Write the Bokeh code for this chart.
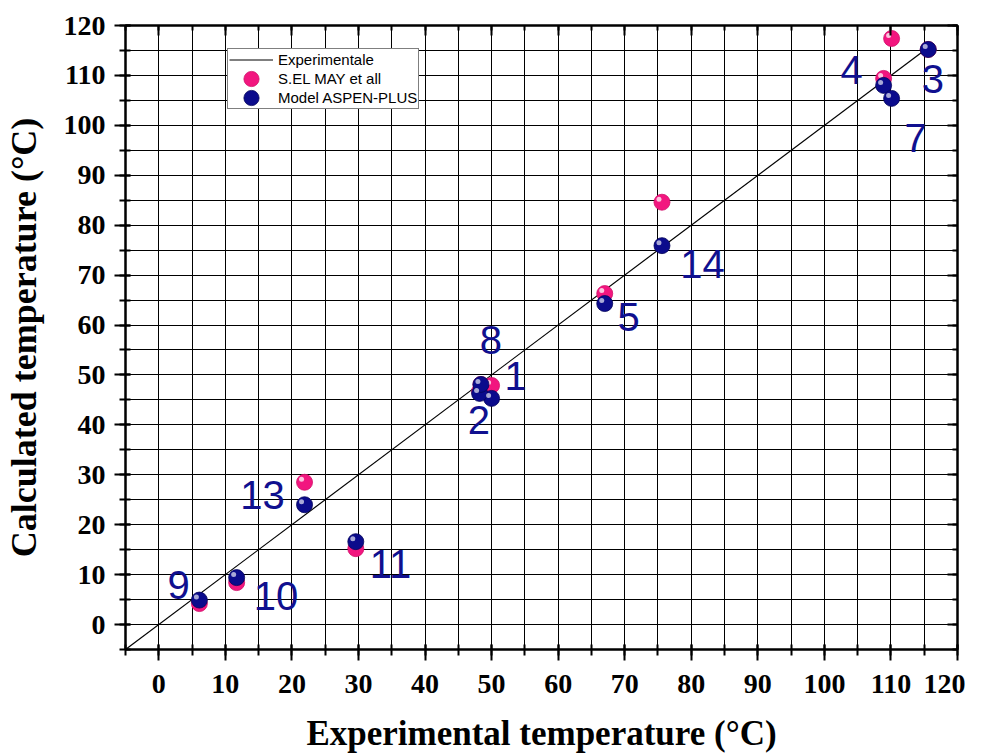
from bokeh.plotting import figure
from bokeh.models import (ColumnDataSource, LinearAxis, SingleIntervalTicker, Legend,
                          LegendItem, Range1d, CustomJSTickFormatter)
from bokeh.transform import dodge
from bokeh.core.properties import value
from bokeh.embed import file_html
from bokeh.resources import INLINE

# ---- data ----
point_id   = ["1", "2", "3", "4", "5", "7", "8", "9", "10", "11", "13", "14"]
exp_temp   = [50.0, 48.2, 115.6, 108.9, 67.0, 110.1, 48.4, 6.1, 11.7, 29.6, 21.9, 75.6]
elmay_temp = [47.9, 46.7, 115.2, 109.4, 66.3, 117.4, 48.1, 4.2, 8.4, 15.2, 28.5, 84.6]
aspen_temp = [45.3, 46.3, 115.2, 108.0, 64.3, 105.4, 48.1, 4.9, 9.4, 16.6, 24.0, 75.9]

label_text = ["4", "3", "7", "14", "5", "8", "1", "2", "13", "11", "9", "10"]
label_x    = [104.1, 116.3, 113.7, 81.7, 70.6, 49.9, 53.6, 48.1, 15.6, 34.8, 3.0, 17.6]
label_y    = [111.0, 109.2, 97.4, 72.3, 61.7, 56.9, 49.7, 40.9, 26.0, 12.2, 8.0, 5.8]

axis_min, axis_max = -5, 120

src = ColumnDataSource(dict(x=exp_temp, y1=elmay_temp, y2=aspen_temp, id=point_id))
lbl = ColumnDataSource(dict(x=label_x, y=label_y, t=label_text))
line_src = ColumnDataSource(dict(x=[axis_min, max(exp_temp)], y=[axis_min, max(exp_temp)]))

p = figure(width=965, height=756, output_backend="svg", toolbar_location=None,
           x_range=Range1d(axis_min, axis_max), y_range=Range1d(axis_min, axis_max),
           x_axis_location=None, y_axis_location=None,
           min_border_left=125, min_border_right=8, min_border_top=25, min_border_bottom=107)
p.background_fill_color = "white"
p.border_fill_color = "white"
p.outline_line_color = "black"
p.outline_line_width = 2

serif = "Liberation Serif"

def make_axis(label=None, labels=True, inward=False, tick_standoff=8, label_standoff=16,
              label_size="35px"):
    ax = LinearAxis(ticker=SingleIntervalTicker(interval=10, num_minor_ticks=2))
    ax.axis_line_width = 2
    ax.axis_line_color = "black"
    ax.major_tick_line_width = 2
    ax.minor_tick_line_width = 2
    if inward:
        ax.major_tick_in = 10
        ax.major_tick_out = 0
        ax.minor_tick_in = 5
        ax.minor_tick_out = 0
    else:
        ax.major_tick_in = 5
        ax.major_tick_out = 11
        ax.minor_tick_in = 5
        ax.minor_tick_out = 6
    if labels:
        ax.major_label_text_font = serif
        ax.major_label_text_font_style = "bold"
        ax.major_label_text_font_size = "28px"
        ax.major_label_text_color = "black"
        ax.major_label_standoff = tick_standoff
    else:
        ax.formatter = CustomJSTickFormatter(code="return ''")
        ax.major_label_standoff = 0
    if label:
        ax.axis_label = label
        ax.axis_label_text_font = serif
        ax.axis_label_text_font_style = "bold"
        ax.axis_label_text_font_size = label_size
        ax.axis_label_text_color = "black"
        ax.axis_label_standoff = label_standoff
    return ax

p.add_layout(make_axis("Experimental temperature (°C)", tick_standoff=14, label_standoff=18), "below")
p.add_layout(make_axis("Calculated temperature (°C)", tick_standoff=9, label_standoff=17,
                       label_size="36px"), "left")
p.add_layout(make_axis(labels=False, inward=True), "above")
p.add_layout(make_axis(labels=False, inward=True), "right")

for g in (p.xgrid, p.ygrid):
    g.ticker = SingleIntervalTicker(interval=10, num_minor_ticks=2)
    g.grid_line_color = "black"
    g.grid_line_width = 1
    g.minor_grid_line_color = "black"
    g.minor_grid_line_width = 1

# y = x experimental line
r_line = p.line("x", "y", source=line_src, line_color="black", line_width=1.2)

pink = "#f2167f"
navy = "#0b0b8c"
hx, hy = -0.45, 0.6

r_pink = p.ellipse("x", "y1", source=src, width=16, height=16,
                   width_units="screen", height_units="screen",
                   fill_color=pink, line_color="#d0106a", line_width=0.8)
p.scatter(dodge("x", hx), dodge("y1", hy), source=src, size=5, fill_color="white",
          line_color=None, fill_alpha=0.75)
r_navy = p.ellipse("x", "y2", source=src, width=16, height=16,
                   width_units="screen", height_units="screen",
                   fill_color=navy, line_color="#05055a", line_width=0.8)
p.scatter(dodge("x", hx), dodge("y2", hy), source=src, size=5, fill_color="white",
          line_color=None, fill_alpha=0.65)

p.text("x", "y", text="t", source=lbl, text_font=value("Liberation Sans"),
       text_font_size="40px", text_color="#10108f", text_align="center",
       text_baseline="middle")

legend = Legend(items=[
    LegendItem(label="Experimentale", renderers=[r_line]),
    LegendItem(label="S.EL MAY et all", renderers=[r_pink]),
    LegendItem(label="Model ASPEN-PLUS", renderers=[r_navy]),
], location=(102, 540))
legend.label_text_font = "Liberation Sans"
legend.label_text_font_size = "15px"
legend.label_text_color = "black"
legend.label_height = 19
legend.glyph_height = 19
legend.glyph_width = 44
legend.spacing = 0
legend.padding = 1
legend.margin = 0
legend.label_standoff = 5
legend.border_line_color = "black"
legend.border_line_width = 1
legend.background_fill_color = "white"
legend.background_fill_alpha = 1
p.add_layout(legend)

open("out.html", "w").write(file_html(p, INLINE))
